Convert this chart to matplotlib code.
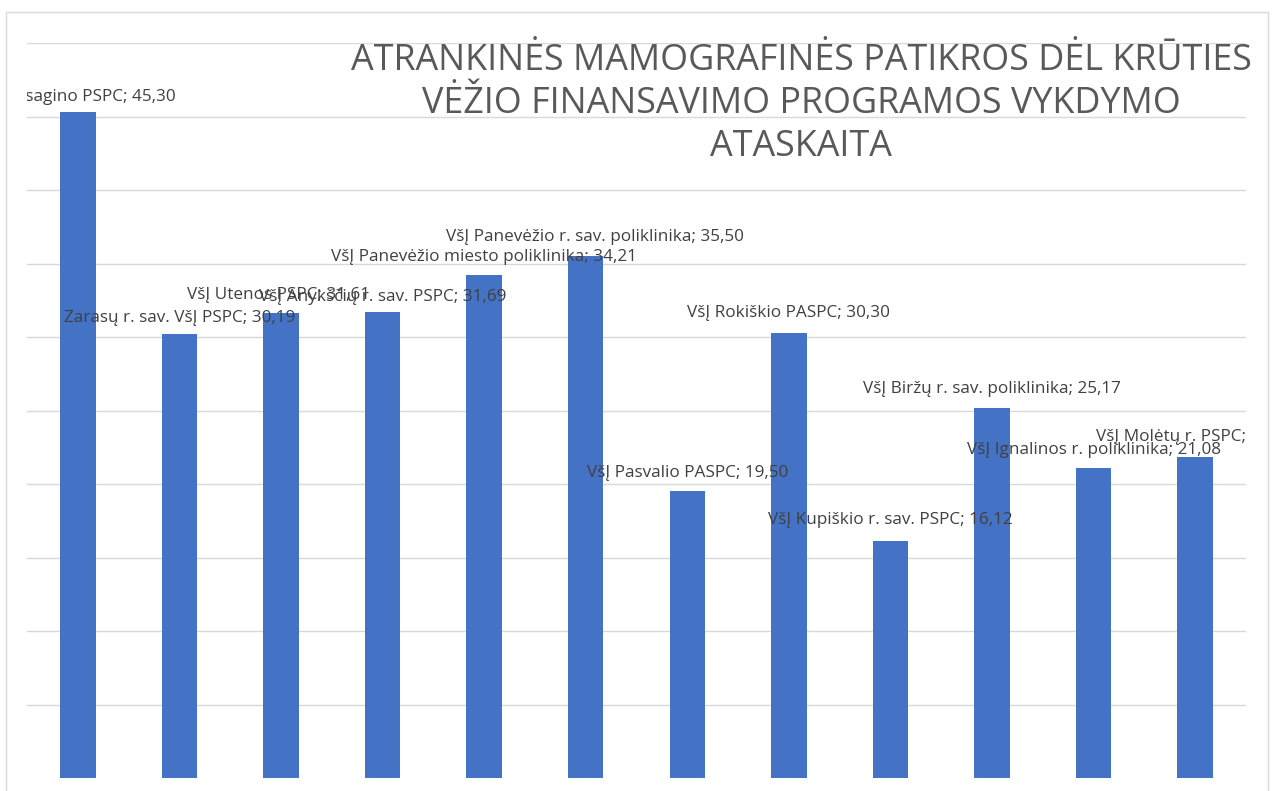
import matplotlib
matplotlib.use("Agg")
import matplotlib.pyplot as plt
from matplotlib.patches import Rectangle

plt.rcParams['font.family'] = ['Open Sans', 'DejaVu Sans']

# duomenys
istaigos = [
    "VšĮ Visagino PSPC",
    "Zarasų r. sav. VšĮ PSPC",
    "VšĮ Utenos PSPC",
    "VšĮ Anykščių r. sav. PSPC",
    "VšĮ Panevėžio miesto poliklinika",
    "VšĮ Panevėžio r. sav. poliklinika",
    "VšĮ Pasvalio PASPC",
    "VšĮ Rokiškio PASPC",
    "VšĮ Kupiškio r. sav. PSPC",
    "VšĮ Biržų r. sav. poliklinika",
    "VšĮ Ignalinos r. poliklinika",
    "VšĮ Molėtų r. PSPC",
]
reiksmes = [45.30, 30.19, 31.61, 31.69, 34.21, 35.50, 19.50, 30.30, 16.12, 25.17, 21.08, 21.85]

pavadinimas = ("ATRANKINĖS MAMOGRAFINĖS PATIKROS DĖL KRŪTIES\n"
               "VĖŽIO FINANSAVIMO PROGRAMOS VYKDYMO\n"
               "ATASKAITA")

# etikečių poslinkiai taškais (ranka perkeltos Excel etiketės)
poslinkiai = [(1, 11), (0, 12), (-2, 13), (0, 11), (0, 13), (7, 14),
              (0, 13), (0, 14), (0, 15), (0, 14), (0, 13), (0, 14)]

fig = plt.figure(figsize=(12.75, 7.91), dpi=100)
ax = fig.add_axes([27 / 1275, 1 - 778 / 791, (1246 - 27) / 1275, (778 - 43) / 791])

x = range(len(reiksmes))
ax.bar(x, reiksmes, width=0.35, color='#4472c4', zorder=2)

ax.set_ylim(0, 50)
ax.set_xlim(-0.5, len(reiksmes) - 0.5)
ax.set_yticks(range(5, 51, 5))
ax.yaxis.grid(True, color='#d9d9d9', linewidth=1, zorder=0)
ax.tick_params(left=False, bottom=False, labelleft=False, labelbottom=False)
for s in ax.spines.values():
    s.set_visible(False)

for i, (pav, v) in enumerate(zip(istaigos, reiksmes)):
    tekstas = f"{pav}; " + f"{v:.2f}".replace('.', ',')
    ax.annotate(tekstas, (i, v), xytext=poslinkiai[i], textcoords='offset points',
                ha='center', va='center', fontsize=12.3, color='#404040',
                annotation_clip=False, clip_on=True, zorder=3)

fig.text(801 / 1275, 1 - 104 / 791, pavadinimas, ha='center', va='center',
         fontsize=25.8, color='#595959', linespacing=1.27)

# rėmelis
fig.patches.append(Rectangle((6 / 1275, -0.1), 1262 / 1275, 1.1 - 12 / 791,
                             transform=fig.transFigure, fill=False,
                             edgecolor='#d9d9d9', linewidth=1))

fig.savefig('out.png', dpi=100, facecolor='white')
